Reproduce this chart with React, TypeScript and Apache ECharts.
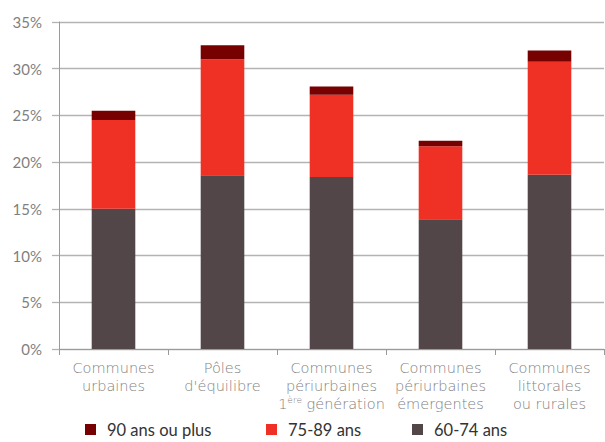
import React, { useEffect, useRef } from "react";
import * as echarts from "echarts";

const categories = [
  "Communes\nurbaines",
  "Pôles\nd'équilibre",
  "Communes\npériurbaines\n1{sup|ère} génération",
  "Communes\npériurbaines\némergentes",
  "Communes\nlittorales\nou rurales",
];
const age60_74 = [15.0, 18.6, 18.4, 13.9, 18.65];
const age75_89 = [9.5, 12.4, 8.8, 7.8, 12.1];
const age90plus = [1.0, 1.5, 0.9, 0.6, 1.2];
const yTicks = [0, 5, 10, 15, 20, 25, 30, 35];

const colors = { a: "#524649", b: "#EE3124", c: "#770000" };

export default function App() {
  const ref = useRef<HTMLDivElement>(null);
  useEffect(() => {
    if (!ref.current) return;
    const chart = echarts.init(ref.current, undefined, { renderer: "svg" });
    const legendText = { color: "#333", fontSize: 16.5, fontFamily: "Lato", padding: [0, 0, 0, 6] };
    const leg = (name: string, left: number) => ({
      data: [name],
      left,
      top: 421,
      padding: 0,
      itemWidth: 11,
      itemHeight: 11,
      textStyle: legendText,
      icon: "rect",
    });
    chart.setOption({
      animation: false,
      grid: { left: 59, right: 1, top: 22, bottom: 93, containLabel: false },
      legend: [leg("90 ans ou plus", 85), leg("75-89 ans", 266), leg("60-74 ans", 412)],
      xAxis: {
        type: "category",
        data: categories,
        axisLine: { show: true, lineStyle: { color: "#9a9a9a", width: 1 } },
        axisTick: { show: true, length: 6, lineStyle: { color: "#9a9a9a" } },
        axisLabel: {
          color: "#7f7f7f",
          fontSize: 14.5,
          fontFamily: "DejaVu Sans",
          fontWeight: 300,
          lineHeight: 18,
          margin: 10,
          interval: 0,
          rich: { sup: { fontSize: 9, verticalAlign: "top", color: "#7f7f7f", fontFamily: "DejaVu Sans", lineHeight: 12 } },
        },
      },
      yAxis: {
        type: "value",
        min: 0,
        max: 35,
        interval: 5,
        axisLine: { show: true, lineStyle: { color: "#9a9a9a", width: 1 } },
        axisTick: { show: true, length: 7, lineStyle: { color: "#b3b3b3", width: 1.3 } },
        splitLine: { show: true, lineStyle: { color: "#b3b3b3", width: 1.3 } },
        axisLabel: {
          color: "#7f7f7f",
          fontSize: 15,
          fontFamily: "Lato",
          margin: 17,
          formatter: (v: number) => (yTicks.includes(v) ? `${v}%` : ""),
        },
      },
      series: [
        { name: "60-74 ans", type: "bar", stack: "s", data: age60_74, barWidth: "40%", itemStyle: { color: colors.a } },
        { name: "75-89 ans", type: "bar", stack: "s", data: age75_89, barWidth: "40%", itemStyle: { color: colors.b } },
        { name: "90 ans ou plus", type: "bar", stack: "s", data: age90plus, barWidth: "40%", itemStyle: { color: colors.c } },
      ],
    });
    return () => chart.dispose();
  }, []);
  return <div ref={ref} style={{ width: 605, height: 442, position: "absolute", left: 0, top: 0 }} />;
}
